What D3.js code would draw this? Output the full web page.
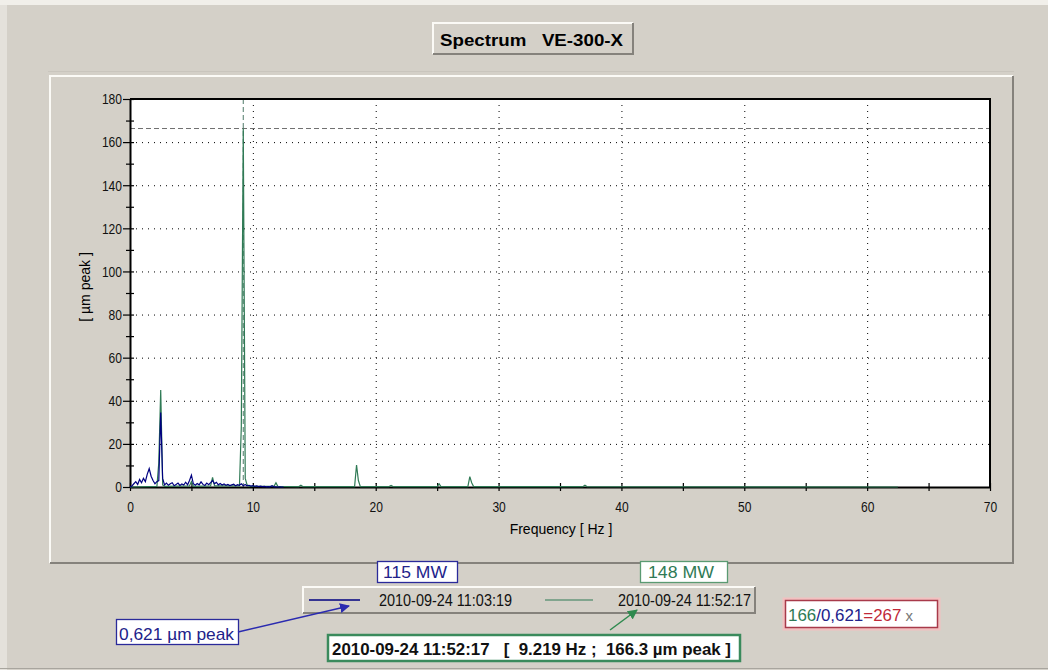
<!DOCTYPE html>
<html>
<head>
<meta charset="utf-8">
<script src="https://cdn.jsdelivr.net/npm/d3@7"></script>
<style>
body { margin: 0; background: #d4d0c8; }
svg { display: block; font-family: "Liberation Sans", Arial, sans-serif; }
text { white-space: pre; }
</style>
</head>
<body>
<svg id="chart" width="1048" height="670"></svg>
<script>
// Spectrum VE-300-X: two spectra overlaid, amplitude in µm peak vs frequency.

// Frequency resolution of the spectra (Hz per line).
const BIN = 0.15625;

// 115 MW run, one value per line from 0 Hz up to 12.5 Hz (rest is flat).
const blueAmp = [
  0, 0.5, 1.5, 2.5, 1.2, 3.5, 2.0, 4.0, 2.5, 6.0,
  8.5, 5.0, 3.0, 1.5, 2.5, 3.0, 34.5, 4.0, 1.0, 1.8,
  0.8, 1.5, 2.0, 0.6, 1.2, 1.8, 0.7, 1.4, 0.9, 2.2,
  1.0, 3.0, 5.5, 1.5, 0.8, 1.6, 1.0, 2.4, 1.2, 0.7,
  1.8, 1.1, 2.0, 3.0, 1.5, 2.2, 1.0, 1.6, 0.9, 1.4,
  0.8, 1.2, 0.7, 1.0, 1.3, 0.6, 1.1, 0.8, 1.5, 0.621,
  1.2, 0.5, 0.8, 0.4, 0.6, 0.3, 0.5, 0.2, 0.4, 0.2,
  0.3, 0.1, 0.2, 0.1, 0.6, 0.1, 0.1, 0, 0.1, 0, 0
];

// 148 MW run, the lines that stand out (zero in between), up to 62.5 Hz.
const greenFreq = [0, 2.19, 2.34, 2.50, 2.66, 2.81, 4.84, 5.00, 5.16, 6.56, 6.72, 6.88,
  8.91, 9.06, 9.219, 9.38, 9.53, 9.69, 11.72, 11.88, 12.03, 13.75, 13.91, 14.06,
  18.28, 18.44, 18.59, 18.75, 21.09, 21.25, 21.41, 25.0, 25.16, 25.31,
  27.5, 27.66, 27.81, 27.97, 36.88, 37.03, 37.19, 62.5];
const greenAmp = [0, 0.3, 11, 45, 1, 0.3, 0.5, 2.5, 0.3, 0.5, 4.5, 0.5,
  0.5, 28, 166.3, 4, 1, 0.3, 0.3, 2.0, 0.3, 0.2, 0.8, 0.2,
  0.2, 10.2, 3, 0.2, 0.2, 0.7, 0.2, 0.2, 1.5, 0.2,
  0.2, 4.8, 2, 0.2, 0.2, 0.8, 0.2, 0];

const xTicks = [0, 5, 10, 15, 20, 25, 30, 35, 40, 45, 50, 55, 60, 65, 70];
const yTicks = [0, 10, 20, 30, 40, 50, 60, 70, 80, 90, 100, 110, 120, 130, 140, 150, 160, 170, 180];

const seriesNames = ["2010-09-24 11:03:19", "2010-09-24 11:52:17"];
const seriesPower = ["115 MW", "148 MW"];
const peakFreq = 9.219;
const peakAmp = 166.3;
const blueAtPeak = 0.621;

const BLUE = "#000080";
const GREEN = "#2f7a55";
const BG = "#d4d0c8";

const svg = d3.select("#chart");

// Window chrome and the raised chart panel.
svg.append("rect").attr("width", 1048).attr("height", 5).attr("fill", "#f1efea");
svg.append("rect").attr("y", 5).attr("width", 7).attr("height", 665).attr("fill", "#e4e1db");
svg.append("line").attr("x1", 0).attr("x2", 1048).attr("y1", 668.5).attr("y2", 668.5).attr("stroke", "#a8a59e");
svg.append("line").attr("x1", 48).attr("x2", 1014).attr("y1", 71.5).attr("y2", 71.5).attr("stroke", "#c9c5bd");
bevel(50, 76, 963, 487, 2);

// Title button.
bevel(433, 23, 200, 31, 2);
narrowText(440, 46, "Spectrum   VE-300-X", 17, 183).attr("font-weight", "bold");

const x = d3.scaleLinear().domain([0, 70]).range([130, 990]);
const y = d3.scaleLinear().domain([0, 180]).range([487, 99]);

svg.append("rect").attr("x", x(0)).attr("y", y(180))
  .attr("width", x(70) - x(0)).attr("height", y(0) - y(180)).attr("fill", "#fff");

// Dotted grid.
const grid = svg.append("g").attr("stroke", "#000").attr("stroke-dasharray", "1,5");
grid.selectAll(".gx").data(xTicks.filter((d) => d % 10 === 0 && d > 0 && d < 70)).join("line")
  .attr("x1", (d) => x(d) + 0.5).attr("x2", (d) => x(d) + 0.5)
  .attr("y1", y(180)).attr("y2", y(0));
grid.selectAll(".gy").data(yTicks.filter((d) => d % 20 === 0 && d > 0 && d < 180)).join("line")
  .attr("y1", (d) => y(d) + 0.5).attr("y2", (d) => y(d) + 0.5)
  .attr("x1", x(0)).attr("x2", x(70));

// Cursor at the peak.
svg.append("line").attr("x1", x(0)).attr("x2", x(70))
  .attr("y1", y(peakAmp)).attr("y2", y(peakAmp))
  .attr("stroke", "#6f6f6f").attr("stroke-dasharray", "5,3");
svg.append("line").attr("x1", x(peakFreq)).attr("x2", x(peakFreq))
  .attr("y1", y(180)).attr("y2", y(0))
  .attr("stroke", "#4f7a68").attr("stroke-dasharray", "5,3");

// Plot frame: top and right edges.
svg.append("path")
  .attr("d", `M${x(0)},${y(180)}H${x(70)}V${y(0)}`)
  .attr("fill", "none").attr("stroke", "#000").attr("stroke-width", 2);

// Axes. Ticks cross the axis line, labels every second tick.
const xAxis = svg.append("g").attr("transform", `translate(0,${y(0)})`)
  .call(d3.axisBottom(x).tickValues(xTicks).tickSizeOuter(0)
    .tickFormat((d) => (d % 10 === 0 ? d : "")));
xAxis.selectAll(".tick line").attr("y1", -4).attr("y2", 4);
xAxis.selectAll(".tick text").attr("y", 14).attr("dy", "0.71em");

const yAxis = svg.append("g").attr("transform", `translate(${x(0)},0)`)
  .call(d3.axisLeft(y).tickValues(yTicks).tickSizeOuter(0)
    .tickFormat((d) => (d % 20 === 0 ? d : "")));
yAxis.selectAll(".tick line").attr("x1", (d) => (d % 20 === 0 ? -7 : -4)).attr("x2", 4);
yAxis.selectAll(".tick text").attr("x", -8);

for (const g of [xAxis, yAxis]) {
  g.attr("font-family", null).attr("font-size", 15);
  g.select(".domain").attr("stroke-width", 2);
  g.selectAll(".tick line").attr("stroke-width", 1.2);
  // Squeeze the digits a little, as in the original narrow system font.
  g.selectAll(".tick text").attr("fill", "#111")
    .attr("textLength", function () { return this.textContent.length * 6.7 || null; })
    .attr("lengthAdjust", "spacingAndGlyphs");
}

svg.append("text").attr("x", 561).attr("y", 534).attr("text-anchor", "middle")
  .attr("font-size", 14).text("Frequency [ Hz ]");
svg.append("text").attr("transform", "translate(90,287) rotate(-90)").attr("text-anchor", "middle")
  .attr("font-size", 14).text("[ µm peak ]");

// Spectra.
const line = d3.line().x((d) => x(d[0])).y((d) => y(d[1]));
const greenPts = greenFreq.map((f, i) => [f, greenAmp[i]]);
const bluePts = blueAmp.map((v, i) => [i * BIN, v]);

svg.append("path").datum(greenPts).attr("d", line)
  .attr("fill", "none").attr("stroke", GREEN).attr("stroke-width", 1.2);
svg.append("path").datum(bluePts).attr("d", line)
  .attr("fill", "none").attr("stroke", BLUE).attr("stroke-width", 1.2);

// Legend.
bevel(303, 587, 452, 26, 2);
const legendX = [[309, 360, 379], [545, 593, 618]];
[BLUE, GREEN].forEach((c, i) => {
  const [a, b, t] = legendX[i];
  svg.append("line").attr("x1", a).attr("x2", b).attr("y1", 600).attr("y2", 600)
    .attr("stroke", c).attr("stroke-width", i === 0 ? 1.5 : 1);
  narrowText(t, 606, seriesNames[i], 16, 133).attr("fill", "#111");
});

// Power labels above the legend.
labelBox(377, 561, 80, 21, "#2a2a9a", seriesPower[0], "#22228a", 17, 6, 64);
labelBox(640, 561, 87, 21, "#5a9a72", seriesPower[1], "#2f7a55", 17, 8, 66);

// Arrow heads.
const defs = svg.append("defs");
for (const [id, c] of [["ab", "#2a2ab0"], ["ag", "#2f8a4f"]]) {
  defs.append("marker").attr("id", id).attr("viewBox", "0 0 10 10")
    .attr("refX", 9).attr("refY", 5).attr("markerWidth", 10).attr("markerHeight", 10)
    .attr("markerUnits", "userSpaceOnUse").attr("orient", "auto")
    .append("path").attr("d", "M0,0L10,5L0,10z").attr("fill", c);
}

// Blue value at the peak frequency.
labelBox(116, 619, 122, 25, "#2a2a9a", `${String(blueAtPeak).replace(".", ",")} µm peak`, "#22228a", 17, 3, 115);
svg.append("line").attr("x1", 238).attr("y1", 632).attr("x2", 349).attr("y2", 606)
  .attr("stroke", "#2a2ab0").attr("stroke-width", 1.5).attr("marker-end", "url(#ab)");

// Green peak readout.
svg.append("rect").attr("x", 328).attr("y", 635).attr("width", 412).attr("height", 26)
  .attr("fill", "#fff").attr("stroke", "#3a8a5c").attr("stroke-width", 2.5);
narrowText(332, 655, `${seriesNames[1]}   [  ${peakFreq} Hz ;  ${peakAmp} µm peak ]`, 17, 399)
  .attr("font-weight", "bold").attr("fill", "#111");
svg.append("line").attr("x1", 610).attr("y1", 630).attr("x2", 637).attr("y2", 610)
  .attr("stroke", "#2f8a4f").attr("stroke-width", 1.5).attr("marker-end", "url(#ag)");

// Ratio box.
svg.append("rect").attr("x", 784).attr("y", 599).attr("width", 155).attr("height", 30)
  .attr("fill", "none").attr("stroke", "#f2c0c0").attr("stroke-width", 3);
svg.append("rect").attr("x", 785.5).attr("y", 600.5).attr("width", 152).attr("height", 27)
  .attr("fill", "#fff").attr("stroke", "#a83a4a").attr("stroke-width", 1.5);
const ratio = narrowText(788, 621, "", 17, 125);
ratio.append("tspan").attr("fill", "#2f7a55").text(Math.round(peakAmp));
ratio.append("tspan").attr("fill", "#22228a").text("/" + String(blueAtPeak).replace(".", ","));
ratio.append("tspan").attr("fill", "#c02838").text("=" + Math.round(Math.round(peakAmp) / blueAtPeak));
ratio.append("tspan").attr("fill", "#777").attr("font-size", 15).text(" x");

// Text pressed into a fixed width, like the narrow UI font of the original.
function narrowText(tx, ty, txt, size, len) {
  return svg.append("text").attr("x", tx).attr("y", ty).attr("font-size", size)
    .attr("textLength", len).attr("lengthAdjust", "spacingAndGlyphs").text(txt);
}

// Raised Windows-style box: light top/left, dark bottom/right.
function bevel(bx, by, w, h, t) {
  svg.append("rect").attr("x", bx).attr("y", by).attr("width", w).attr("height", h).attr("fill", BG);
  svg.append("path").attr("d", `M${bx},${by + h}V${by}H${bx + w}`)
    .attr("fill", "none").attr("stroke", "#fbfaf6").attr("stroke-width", t);
  svg.append("path").attr("d", `M${bx},${by + h}H${bx + w}V${by}`)
    .attr("fill", "none").attr("stroke", "#85827c").attr("stroke-width", t);
}

function labelBox(bx, by, w, h, stroke, txt, color, size, pad, len) {
  svg.append("rect").attr("x", bx + 0.5).attr("y", by + 0.5).attr("width", w).attr("height", h)
    .attr("fill", "#fff").attr("stroke", stroke).attr("stroke-width", 1.3);
  narrowText(bx + pad, by + h - 4, txt, size, len).attr("fill", color);
}
</script>
</body>
</html>
